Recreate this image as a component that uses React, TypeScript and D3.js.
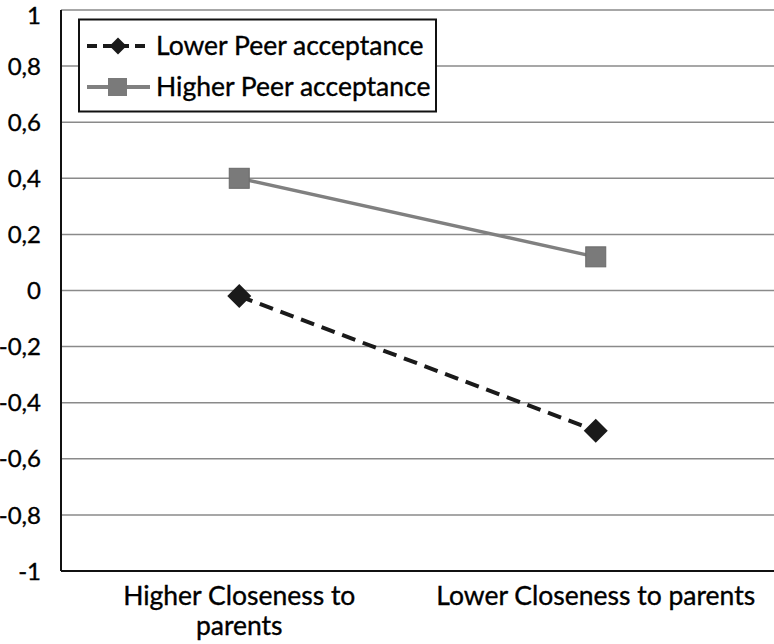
import React from "react";
import * as d3 from "d3";

const categories = ["Higher Closeness to parents", "Lower Closeness to parents"];
const categoryLines = [["Higher Closeness to", "parents"], ["Lower Closeness to parents"]];
const lowerPeer = [-0.02, -0.5];
const higherPeer = [0.4, 0.12];
const yTicks = [-1, -0.8, -0.6, -0.4, -0.2, 0, 0.2, 0.4, 0.6, 0.8, 1];
const seriesNames = ["Lower Peer acceptance", "Higher Peer acceptance"];

const W = 774, H = 644;
const left = 61, right = 774, top = 10, bottom = 571;
const font = "Lato, 'Open Sans', sans-serif";

export default function App() {
  const x = d3.scaleBand<string>().domain(categories).range([left, right]);
  const y = d3.scaleLinear().domain([-1, 1]).range([bottom, top]);
  const cx = (c: string) => (x(c) as number) + x.bandwidth() / 2;
  const line = d3.line<number>().x((_, i) => cx(categories[i])).y((d) => y(d));
  const fmt = (v: number) => (v === 0 ? "0" : String(Math.round(v * 10) / 10).replace(".", ","));
  const diamond = (px: number, py: number, r: number) => `M${px},${py - r}L${px + r},${py}L${px},${py + r}L${px - r},${py}Z`;
  const heavy = { stroke: "#000", strokeWidth: 0.35 };

  return (
    <svg width={W} height={H} style={{ position: "absolute", left: 0, top: 0 }} fontFamily={font}>
      <rect width={W} height={H} fill="#fff" />
      {yTicks.map((t) => (
        <g key={t}>
          {t !== -1 && <line x1={left} x2={right} y1={y(t)} y2={y(t)} stroke="#8a8a8a" strokeWidth={1.5} />}
          <text x={41} y={t === 1 ? 15.5 : y(t)} dy="0.36em" textAnchor="end" fontSize={24} fill="#000" {...heavy}>{fmt(t)}</text>
        </g>
      ))}
      <line x1={left} x2={left} y1={top} y2={bottom} stroke="#111" strokeWidth={2} />
      <line x1={left} x2={right} y1={bottom} y2={bottom} stroke="#111" strokeWidth={2} />
      {categories.map((c, i) => (
        <text key={c} textAnchor="middle" fontSize={26.5} fill="#000" {...heavy}>
          {categoryLines[i].map((l, j) => (
            <tspan key={j} x={cx(c)} y={605 + j * 30}>{l}</tspan>
          ))}
        </text>
      ))}
      <path d={line(higherPeer) || ""} fill="none" stroke="#808080" strokeWidth={3.5} />
      {higherPeer.map((v, i) => (
        <rect key={i} x={cx(categories[i]) - 10} y={y(v) - 10} width={20} height={20} fill="#7a7a7a" stroke="#6a6a6a" strokeWidth={1} />
      ))}
      <path d={line(lowerPeer) || ""} fill="none" stroke="#1a1a1a" strokeWidth={4} strokeDasharray="14,8" />
      {lowerPeer.map((v, i) => (
        <path key={i} d={diamond(cx(categories[i]), y(v), 12)} fill="#1a1a1a" />
      ))}
      <rect x={79} y={19.5} width={357} height={92} fill="#fff" stroke="#111" strokeWidth={2} />
      <line x1={87} x2={150} y1={46} y2={46} stroke="#1a1a1a" strokeWidth={4} strokeDasharray="10,6" />
      <path d={diamond(118, 46, 8.5)} fill="#1a1a1a" />
      <text x={156} y={46} dy="0.35em" fontSize={26.5} fill="#000" {...heavy}>{seriesNames[0]}</text>
      <line x1={87} x2={150} y1={87} y2={87} stroke="#808080" strokeWidth={4} />
      <rect x={108} y={78} width={19} height={18} fill="#7a7a7a" />
      <text x={156} y={87} dy="0.35em" fontSize={26.5} fill="#000" {...heavy}>{seriesNames[1]}</text>
    </svg>
  );
}
